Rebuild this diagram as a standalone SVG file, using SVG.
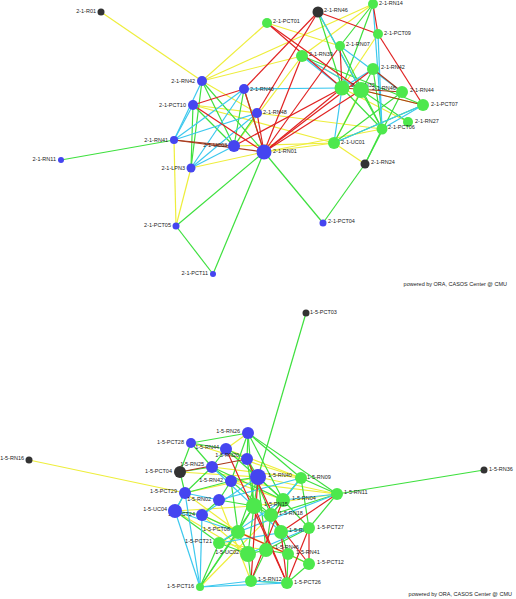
<svg xmlns="http://www.w3.org/2000/svg" width="516" height="599" viewBox="0 0 516 599">
<style>
line{stroke-width:1.2;fill:none}
.y{stroke:#eeee3c}.g{stroke:#3ee03e}.c{stroke:#3cc8ee}.r{stroke:#e02222}.br{stroke:#a83a1c}
.nb{fill:#4545f0}.ng{fill:#4de84d}.nd{fill:#333}
text{font-family:"Liberation Sans",Arial,sans-serif;font-size:5.5px;fill:#222}
.L{text-anchor:end}
.credit{font-size:5.5px;text-anchor:end}
</style>
<rect width="516" height="599" fill="#fff"/>
<g id="connectors">
<g id="top-edges">
<line class="y" x1="101" y1="12" x2="202" y2="81"/>
<line class="y" x1="174" y1="140" x2="176" y2="226"/>
<line class="y" x1="191" y1="168" x2="176" y2="226"/>
<line class="y" x1="191" y1="168" x2="264" y2="152"/>
<line class="y" x1="365" y1="164" x2="334" y2="143"/>
<line class="y" x1="334" y1="143" x2="264" y2="152"/>
<line class="y" x1="193" y1="105" x2="334" y2="143"/>
<line class="y" x1="202" y1="81" x2="257" y2="113"/>
<line class="y" x1="202" y1="81" x2="302" y2="56"/>
<line class="y" x1="202" y1="81" x2="267" y2="23"/>
<line class="y" x1="193" y1="105" x2="257" y2="113"/>
<line class="y" x1="234" y1="146" x2="302" y2="56"/>
<line class="y" x1="373" y1="4" x2="302" y2="56"/>
<line class="y" x1="373" y1="4" x2="202" y2="81"/>
<line class="y" x1="302" y1="56" x2="361" y2="90"/>
<line class="y" x1="361" y1="90" x2="423" y2="105"/>
<line class="y" x1="342" y1="88" x2="408" y2="122"/>
<line class="y" x1="257" y1="113" x2="382" y2="129"/>
<line class="y" x1="264" y1="152" x2="382" y2="129"/>
<line class="y" x1="334" y1="143" x2="361" y2="90"/>
<line class="y" x1="267" y1="23" x2="340" y2="46"/>
<line class="y" x1="378" y1="34" x2="342" y2="88"/>
<line class="y" x1="234" y1="146" x2="334" y2="143"/>
<line class="g" x1="61" y1="160" x2="174" y2="140"/>
<line class="g" x1="176" y1="226" x2="264" y2="152"/>
<line class="g" x1="176" y1="226" x2="213" y2="274"/>
<line class="g" x1="213" y1="274" x2="264" y2="152"/>
<line class="g" x1="264" y1="152" x2="323" y2="223"/>
<line class="g" x1="323" y1="223" x2="365" y2="164"/>
<line class="g" x1="365" y1="164" x2="382" y2="129"/>
<line class="g" x1="365" y1="164" x2="402" y2="92"/>
<line class="g" x1="202" y1="81" x2="191" y2="168"/>
<line class="g" x1="202" y1="81" x2="234" y2="146"/>
<line class="g" x1="202" y1="81" x2="264" y2="152"/>
<line class="g" x1="193" y1="105" x2="234" y2="146"/>
<line class="g" x1="244" y1="89" x2="234" y2="146"/>
<line class="g" x1="257" y1="113" x2="234" y2="146"/>
<line class="g" x1="373" y1="4" x2="340" y2="46"/>
<line class="g" x1="373" y1="4" x2="342" y2="88"/>
<line class="g" x1="318" y1="12" x2="342" y2="88"/>
<line class="g" x1="318" y1="12" x2="382" y2="129"/>
<line class="g" x1="340" y1="46" x2="382" y2="129"/>
<line class="g" x1="302" y1="56" x2="423" y2="105"/>
<line class="g" x1="373" y1="69" x2="382" y2="129"/>
<line class="g" x1="342" y1="88" x2="382" y2="129"/>
<line class="g" x1="361" y1="90" x2="408" y2="122"/>
<line class="g" x1="334" y1="143" x2="423" y2="105"/>
<line class="g" x1="334" y1="143" x2="402" y2="92"/>
<line class="g" x1="334" y1="143" x2="373" y2="69"/>
<line class="g" x1="193" y1="105" x2="191" y2="168"/>
<line class="g" x1="244" y1="89" x2="264" y2="152"/>
<line class="c" x1="174" y1="140" x2="202" y2="81"/>
<line class="c" x1="174" y1="140" x2="193" y2="105"/>
<line class="c" x1="174" y1="140" x2="244" y2="89"/>
<line class="c" x1="174" y1="140" x2="257" y2="113"/>
<line class="c" x1="191" y1="168" x2="257" y2="113"/>
<line class="c" x1="191" y1="168" x2="244" y2="89"/>
<line class="c" x1="191" y1="168" x2="234" y2="146"/>
<line class="c" x1="244" y1="89" x2="342" y2="88"/>
<line class="c" x1="318" y1="12" x2="361" y2="90"/>
<line class="c" x1="302" y1="56" x2="361" y2="90"/>
<line class="c" x1="373" y1="4" x2="382" y2="129"/>
<line class="c" x1="378" y1="34" x2="382" y2="129"/>
<line class="c" x1="340" y1="46" x2="402" y2="92"/>
<line class="c" x1="423" y1="105" x2="334" y2="143"/>
<line class="c" x1="342" y1="88" x2="334" y2="143"/>
<line class="c" x1="423" y1="105" x2="382" y2="129"/>
<line class="c" x1="373" y1="69" x2="342" y2="88"/>
<line class="c" x1="302" y1="56" x2="342" y2="88"/>
<line class="br" x1="174" y1="140" x2="234" y2="146"/>
<line class="br" x1="174" y1="140" x2="264" y2="152"/>
<line class="r" x1="193" y1="105" x2="244" y2="89"/>
<line class="r" x1="193" y1="105" x2="264" y2="152"/>
<line class="r" x1="244" y1="89" x2="264" y2="152"/>
<line class="r" x1="257" y1="113" x2="264" y2="152"/>
<line class="r" x1="244" y1="89" x2="318" y2="12"/>
<line class="r" x1="318" y1="12" x2="257" y2="113"/>
<line class="r" x1="264" y1="152" x2="342" y2="88"/>
<line class="r" x1="264" y1="152" x2="361" y2="90"/>
<line class="r" x1="264" y1="152" x2="373" y2="69"/>
<line class="r" x1="264" y1="152" x2="302" y2="56"/>
<line class="r" x1="264" y1="152" x2="340" y2="46"/>
<line class="r" x1="267" y1="23" x2="361" y2="90"/>
<line class="r" x1="267" y1="23" x2="342" y2="88"/>
<line class="r" x1="318" y1="12" x2="378" y2="34"/>
<line class="r" x1="373" y1="4" x2="378" y2="34"/>
<line class="r" x1="378" y1="34" x2="423" y2="105"/>
<line class="r" x1="340" y1="46" x2="342" y2="88"/>
<line class="r" x1="234" y1="146" x2="342" y2="88"/>
<line class="br" x1="373" y1="69" x2="402" y2="92"/>
<line class="br" x1="342" y1="88" x2="402" y2="92"/>
<line class="br" x1="361" y1="90" x2="423" y2="105"/>
</g>
<g id="bottom-edges">
<line class="y" x1="29" y1="460" x2="185" y2="493"/>
<line class="y" x1="337" y1="494" x2="254" y2="506"/>
<line class="y" x1="337" y1="494" x2="258" y2="477"/>
<line class="y" x1="337" y1="494" x2="231" y2="481"/>
<line class="y" x1="248" y1="433" x2="226" y2="449"/>
<line class="y" x1="180" y1="472" x2="258" y2="477"/>
<line class="y" x1="185" y1="493" x2="258" y2="477"/>
<line class="y" x1="175" y1="511" x2="254" y2="506"/>
<line class="y" x1="202" y1="515" x2="248" y2="554"/>
<line class="y" x1="219" y1="543" x2="266" y2="550"/>
<line class="y" x1="238" y1="532" x2="309" y2="564"/>
<line class="y" x1="212" y1="467" x2="301" y2="478"/>
<line class="y" x1="226" y1="449" x2="301" y2="478"/>
<line class="y" x1="231" y1="481" x2="283" y2="500"/>
<line class="y" x1="191" y1="443" x2="301" y2="478"/>
<line class="y" x1="175" y1="511" x2="248" y2="554"/>
<line class="y" x1="185" y1="493" x2="238" y2="532"/>
<line class="y" x1="219" y1="500" x2="251" y2="581"/>
<line class="y" x1="200" y1="587" x2="271" y2="515"/>
<line class="y" x1="202" y1="515" x2="288" y2="554"/>
<line class="g" x1="306" y1="313" x2="258" y2="477"/>
<line class="g" x1="484" y1="470" x2="337" y2="494"/>
<line class="g" x1="248" y1="433" x2="337" y2="494"/>
<line class="g" x1="248" y1="433" x2="301" y2="478"/>
<line class="g" x1="248" y1="433" x2="191" y2="443"/>
<line class="g" x1="248" y1="433" x2="283" y2="500"/>
<line class="g" x1="248" y1="433" x2="254" y2="506"/>
<line class="g" x1="248" y1="433" x2="231" y2="481"/>
<line class="g" x1="191" y1="443" x2="226" y2="449"/>
<line class="g" x1="301" y1="478" x2="337" y2="494"/>
<line class="g" x1="301" y1="478" x2="309" y2="528"/>
<line class="g" x1="337" y1="494" x2="309" y2="528"/>
<line class="g" x1="337" y1="494" x2="271" y2="515"/>
<line class="g" x1="200" y1="587" x2="238" y2="532"/>
<line class="g" x1="200" y1="587" x2="254" y2="506"/>
<line class="g" x1="200" y1="587" x2="219" y2="543"/>
<line class="g" x1="287" y1="583" x2="251" y2="581"/>
<line class="g" x1="251" y1="581" x2="248" y2="554"/>
<line class="g" x1="251" y1="581" x2="266" y2="550"/>
<line class="g" x1="191" y1="443" x2="180" y2="472"/>
<line class="g" x1="191" y1="443" x2="212" y2="467"/>
<line class="g" x1="226" y1="449" x2="212" y2="467"/>
<line class="g" x1="226" y1="449" x2="247" y2="459"/>
<line class="g" x1="247" y1="459" x2="258" y2="477"/>
<line class="g" x1="212" y1="467" x2="231" y2="481"/>
<line class="g" x1="212" y1="467" x2="185" y2="493"/>
<line class="g" x1="231" y1="481" x2="219" y2="500"/>
<line class="g" x1="231" y1="481" x2="258" y2="477"/>
<line class="g" x1="185" y1="493" x2="175" y2="511"/>
<line class="g" x1="175" y1="511" x2="202" y2="515"/>
<line class="g" x1="219" y1="500" x2="202" y2="515"/>
<line class="g" x1="258" y1="477" x2="254" y2="506"/>
<line class="g" x1="258" y1="477" x2="283" y2="500"/>
<line class="g" x1="254" y1="506" x2="271" y2="515"/>
<line class="g" x1="254" y1="506" x2="238" y2="532"/>
<line class="g" x1="271" y1="515" x2="281" y2="532"/>
<line class="g" x1="283" y1="500" x2="271" y2="515"/>
<line class="g" x1="281" y1="532" x2="309" y2="528"/>
<line class="g" x1="281" y1="532" x2="288" y2="554"/>
<line class="g" x1="288" y1="554" x2="309" y2="564"/>
<line class="g" x1="266" y1="550" x2="288" y2="554"/>
<line class="g" x1="248" y1="554" x2="266" y2="550"/>
<line class="g" x1="248" y1="554" x2="238" y2="532"/>
<line class="g" x1="219" y1="543" x2="238" y2="532"/>
<line class="g" x1="219" y1="543" x2="248" y2="554"/>
<line class="g" x1="288" y1="554" x2="287" y2="583"/>
<line class="g" x1="309" y1="564" x2="287" y2="583"/>
<line class="g" x1="266" y1="550" x2="309" y2="528"/>
<line class="g" x1="271" y1="515" x2="266" y2="550"/>
<line class="g" x1="238" y1="532" x2="258" y2="477"/>
<line class="g" x1="247" y1="459" x2="254" y2="506"/>
<line class="g" x1="226" y1="449" x2="283" y2="500"/>
<line class="g" x1="248" y1="433" x2="247" y2="459"/>
<line class="g" x1="231" y1="481" x2="238" y2="532"/>
<line class="g" x1="180" y1="472" x2="212" y2="467"/>
<line class="g" x1="180" y1="472" x2="185" y2="493"/>
<line class="g" x1="185" y1="493" x2="231" y2="481"/>
<line class="g" x1="219" y1="500" x2="254" y2="506"/>
<line class="g" x1="202" y1="515" x2="238" y2="532"/>
<line class="g" x1="175" y1="511" x2="219" y2="543"/>
<line class="g" x1="301" y1="478" x2="271" y2="515"/>
<line class="g" x1="283" y1="500" x2="309" y2="528"/>
<line class="g" x1="258" y1="477" x2="266" y2="550"/>
<line class="g" x1="254" y1="506" x2="248" y2="554"/>
<line class="g" x1="247" y1="459" x2="271" y2="515"/>
<line class="g" x1="231" y1="481" x2="271" y2="515"/>
<line class="g" x1="212" y1="467" x2="283" y2="500"/>
<line class="c" x1="200" y1="587" x2="175" y2="511"/>
<line class="c" x1="200" y1="587" x2="202" y2="515"/>
<line class="c" x1="200" y1="587" x2="185" y2="493"/>
<line class="c" x1="200" y1="587" x2="251" y2="581"/>
<line class="c" x1="200" y1="587" x2="287" y2="583"/>
<line class="c" x1="175" y1="511" x2="185" y2="493"/>
<line class="c" x1="185" y1="493" x2="219" y2="500"/>
<line class="c" x1="175" y1="511" x2="238" y2="532"/>
<line class="c" x1="202" y1="515" x2="258" y2="477"/>
<line class="c" x1="219" y1="500" x2="301" y2="478"/>
<line class="c" x1="219" y1="543" x2="309" y2="528"/>
<line class="c" x1="219" y1="543" x2="283" y2="500"/>
<line class="c" x1="251" y1="581" x2="287" y2="583"/>
<line class="c" x1="248" y1="554" x2="309" y2="528"/>
<line class="c" x1="238" y1="532" x2="337" y2="494"/>
<line class="c" x1="212" y1="467" x2="281" y2="532"/>
<line class="c" x1="301" y1="478" x2="283" y2="500"/>
<line class="c" x1="283" y1="500" x2="337" y2="494"/>
<line class="r" x1="287" y1="583" x2="309" y2="528"/>
<line class="r" x1="287" y1="583" x2="281" y2="532"/>
<line class="r" x1="309" y1="528" x2="309" y2="564"/>
<line class="r" x1="251" y1="581" x2="258" y2="477"/>
<line class="r" x1="226" y1="449" x2="287" y2="583"/>
<line class="br" x1="180" y1="472" x2="247" y2="459"/>
<line class="r" x1="247" y1="459" x2="281" y2="532"/>
<line class="r" x1="254" y1="506" x2="287" y2="583"/>
<line class="r" x1="271" y1="515" x2="309" y2="564"/>
<line class="r" x1="238" y1="532" x2="288" y2="554"/>
<line class="r" x1="283" y1="500" x2="251" y2="581"/>
<line class="r" x1="337" y1="494" x2="281" y2="532"/>
</g>
</g>
<g id="top-nodes">
<g id="n-2-1-R01"><circle class="nd" cx="101" cy="12" r="3.5"/><text class="L" x="96" y="13">2-1-R01</text></g>
<g id="n-2-1-RN42b"><circle class="nb" cx="202" cy="81" r="5"/><text class="L" x="195" y="83">2-1-RN42</text></g>
<g id="n-2-1-PCT10"><circle class="nb" cx="193" cy="105" r="5"/><text class="L" x="186" y="107">2-1-PCT10</text></g>
<g id="n-2-1-RN41"><circle class="nb" cx="174" cy="140" r="4"/><text class="L" x="168" y="142">2-1-RN41</text></g>
<g id="n-2-1-RN11"><circle class="nb" cx="61" cy="160" r="3"/><text class="L" x="56" y="161">2-1-RN11</text></g>
<g id="n-2-1-UC03"><text class="L" x="227" y="147">2-1-UC03</text><circle class="nb" cx="234" cy="146" r="6"/></g>
<g id="n-2-1-LPN3"><circle class="nb" cx="191" cy="168" r="4.5"/><text class="L" x="185" y="170">2-1-LPN3</text></g>
<g id="n-2-1-PCT05"><circle class="nb" cx="176" cy="226" r="3.5"/><text class="L" x="171" y="227">2-1-PCT05</text></g>
<g id="n-2-1-PCT11"><circle class="nb" cx="213" cy="274" r="3"/><text class="L" x="208" y="275">2-1-PCT11</text></g>
<g id="n-2-1-RN40"><circle class="nb" cx="244" cy="89" r="5"/><text x="250" y="91">2-1-RN40</text></g>
<g id="n-2-1-RN48"><circle class="nb" cx="257" cy="113" r="5"/><text x="263" y="114">2-1-RN48</text></g>
<g id="n-2-1-RN01"><circle class="nb" cx="264" cy="152" r="7.5"/><text x="273" y="153">2-1-RN01</text></g>
<g id="n-2-1-RN46d"><circle class="nd" cx="318" cy="12" r="5.5"/><text x="324" y="12">2-1-RN46</text></g>
<g id="n-2-1-RN14"><circle class="ng" cx="373" cy="4" r="5"/><text x="379" y="5">2-1-RN14</text></g>
<g id="n-2-1-PCT01"><circle class="ng" cx="267" cy="23" r="5"/><text x="273" y="23">2-1-PCT01</text></g>
<g id="n-2-1-PCT09"><circle class="ng" cx="378" cy="34" r="5"/><text x="384" y="35">2-1-PCT09</text></g>
<g id="n-2-1-RN07"><circle class="ng" cx="340" cy="46" r="5"/><text x="346" y="46">2-1-RN07</text></g>
<g id="n-2-1-RN39"><circle class="ng" cx="302" cy="56" r="6"/><text x="309" y="56">2-1-RN39</text></g>
<g id="n-2-1-RN42g"><circle class="ng" cx="373" cy="69" r="6"/><text x="381" y="69">2-1-RN42</text></g>
<g id="n-2-1-RN32"><circle class="ng" cx="342" cy="88" r="7.5"/><text x="351" y="87">2-1-RN32</text></g>
<g id="n-2-1-RN46g"><circle class="ng" cx="361" cy="90" r="8"/><text x="372" y="90">2-1-RN46</text></g>
<g id="n-2-1-RN44"><circle class="ng" cx="402" cy="92" r="6"/><text x="410" y="92">2-1-RN44</text></g>
<g id="n-2-1-PCT07"><circle class="ng" cx="423" cy="105" r="6"/><text x="431" y="106">2-1-PCT07</text></g>
<g id="n-2-1-RN27"><circle class="ng" cx="408" cy="122" r="5"/><text x="415" y="123">2-1-RN27</text></g>
<g id="n-2-1-PCT06"><circle class="ng" cx="382" cy="129" r="5.5"/><text x="388" y="129">2-1-PCT06</text></g>
<g id="n-2-1-UC01"><circle class="ng" cx="334" cy="143" r="6"/><text x="341" y="144">2-1-UC01</text></g>
<g id="n-2-1-RN24"><circle class="nd" cx="365" cy="164" r="4.5"/><text x="371" y="164">2-1-RN24</text></g>
<g id="n-2-1-PCT04"><circle class="nb" cx="323" cy="223" r="3.5"/><text x="328" y="223">2-1-PCT04</text></g>
</g>
<g id="bottom-nodes">
<g id="n-1-5-PCT03"><circle class="nd" cx="306" cy="313" r="3.5"/><text x="310" y="314">1-5-PCT03</text></g>
<g id="n-1-5-RN36"><circle class="nd" cx="484" cy="470" r="3.5"/><text x="489" y="471">1-5-RN36</text></g>
<g id="n-1-5-RN16"><circle class="nd" cx="29" cy="460" r="3.5"/><text class="L" x="24" y="460">1-5-RN16</text></g>
<g id="n-1-5-RN11"><circle class="ng" cx="337" cy="494" r="6"/><text x="344" y="494">1-5-RN11</text></g>
<g id="n-1-5-RN09"><circle class="ng" cx="301" cy="478" r="6"/><text x="307" y="479">1-5-RN09</text></g>
<g id="n-1-5-RN26"><circle class="nb" cx="248" cy="433" r="6"/><text class="L" x="240" y="433">1-5-RN26</text></g>
<g id="n-1-5-PCT28"><circle class="nb" cx="191" cy="443" r="5"/><text class="L" x="184" y="444">1-5-PCT28</text></g>
<g id="n-1-5-RN44"><text class="L" x="219" y="449">1-5-RN44</text><circle class="nb" cx="226" cy="449" r="6"/></g>
<g id="n-1-5-RN20"><text class="L" x="239" y="457">1-5-RN20</text><circle class="nb" cx="247" cy="459" r="6"/></g>
<g id="n-1-5-RN25"><text class="L" x="204" y="466">1-5-RN25</text><circle class="nb" cx="212" cy="467" r="6"/></g>
<g id="n-1-5-PCT04"><circle class="nd" cx="180" cy="472" r="6"/><text class="L" x="172" y="473">1-5-PCT04</text></g>
<g id="n-1-5-RN40"><circle class="nb" cx="258" cy="477" r="8"/><text x="268" y="477">1-5-RN40</text></g>
<g id="n-1-5-RN42"><text class="L" x="223" y="482">1-5-RN42</text><circle class="nb" cx="231" cy="481" r="6"/></g>
<g id="n-1-5-PCT29"><circle class="nb" cx="185" cy="493" r="6"/><text class="L" x="177" y="493">1-5-PCT29</text></g>
<g id="n-1-5-RN02"><text class="L" x="211" y="501">1-5-RN02</text><circle class="nb" cx="219" cy="500" r="6"/></g>
<g id="n-1-5-RN04"><circle class="ng" cx="283" cy="500" r="7"/><text x="292" y="500">1-5-RN04</text></g>
<g id="n-1-5-RN15"><circle class="ng" cx="254" cy="506" r="8"/><text x="264" y="506">1-5-RN15</text></g>
<g id="n-1-5-PCT24"><text class="L" x="195" y="516">1-5-PCT24</text><circle class="nb" cx="202" cy="515" r="6"/></g>
<g id="n-1-5-UC04"><circle class="nb" cx="175" cy="511" r="7"/><text class="L" x="167" y="511">1-5-UC04</text></g>
<g id="n-1-5-RN18"><circle class="ng" cx="271" cy="515" r="7"/><text x="279" y="515">1-5-RN18</text></g>
<g id="n-1-5-PCT08"><text class="L" x="230" y="531">1-5-PCT08</text><circle class="ng" cx="238" cy="532" r="7"/></g>
<g id="n-1-5-RN33"><circle class="ng" cx="281" cy="532" r="7"/><text x="289" y="532">1-5-RN33</text></g>
<g id="n-1-5-PCT27"><circle class="ng" cx="309" cy="528" r="6"/><text x="317" y="529">1-5-PCT27</text></g>
<g id="n-1-5-PCT21"><circle class="ng" cx="219" cy="543" r="6"/><text class="L" x="212" y="543">1-5-PCT21</text></g>
<g id="n-1-5-UC02"><text class="L" x="239" y="554">1-5-UC02</text><circle class="ng" cx="248" cy="554" r="8"/></g>
<g id="n-1-5-RN46"><circle class="ng" cx="266" cy="550" r="7"/><text x="275" y="549">1-5-RN46</text></g>
<g id="n-1-5-RN41"><circle class="ng" cx="288" cy="554" r="6"/><text x="296" y="554">1-5-RN41</text></g>
<g id="n-1-5-PCT12"><circle class="ng" cx="309" cy="564" r="6"/><text x="317" y="564">1-5-PCT12</text></g>
<g id="n-1-5-RN12"><circle class="ng" cx="251" cy="581" r="6"/><text x="258" y="581">1-5-RN12</text></g>
<g id="n-1-5-PCT26"><circle class="ng" cx="287" cy="583" r="6"/><text x="294" y="584">1-5-PCT26</text></g>
<g id="n-1-5-PCT16"><circle class="ng" cx="200" cy="587" r="4"/><text class="L" x="194" y="588">1-5-PCT16</text></g>
</g>
<text class="credit" x="507" y="286">powered by ORA, CASOS Center @ CMU</text>
<text class="credit" x="512" y="596">powered by ORA, CASOS Center @ CMU</text>
</svg>
